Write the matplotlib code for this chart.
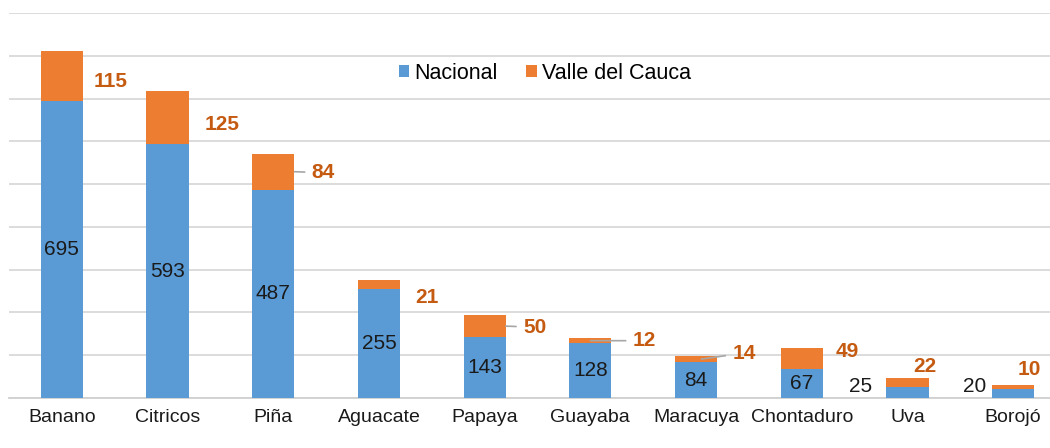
import matplotlib.pyplot as plt

plt.rcParams['font.family'] = ['Liberation Sans', 'DejaVu Sans']

# Datos
categorias = ['Banano', 'Citricos', 'Piña', 'Aguacate', 'Papaya', 'Guayaba',
              'Maracuya', 'Chontaduro', 'Uva', 'Borojó']
nacional = [695, 593, 487, 255, 143, 128, 84, 67, 25, 20]
valle = [115, 125, 84, 21, 50, 12, 14, 49, 22, 10]

# Desplazamiento de etiquetas (pixeles) respecto al centro de la barra
off_valle = [(49, -5), (55, -7), (50, -1), (48, -13), (50, -1), (54, 0),
             (48, 6), (45, 7), (17, 16), (16, 18)]
# inicio de la linea guia (fraccion del ancho de barra desde el centro)
guia = [None, None, 0.2, None, 0.2, 0.0, 0.05, None, None, None]
fuera_nac = [False] * 8 + [True, True]
off_nac = [(-47, 6), (-39, 7)]

azul = '#5B9BD5'
naranja = '#ED7D31'
naranja_txt = '#C55A11'

fig = plt.figure(figsize=(10.5, 4.48), dpi=100)
ax = fig.add_axes([9 / 1050, 50 / 448, 1057 / 1050, 385 / 448])

x = list(range(len(categorias)))
ax.bar(x, nacional, width=0.4, color=azul, label='Nacional', zorder=3)
ax.bar(x, valle, width=0.4, bottom=nacional, color=naranja,
       label='Valle del Cauca', zorder=3)

ax.set_xlim(-0.5, len(categorias) - 0.5)
ax.set_ylim(0, 900)
ax.set_yticks(range(0, 901, 100))
ax.set_yticklabels([])
ax.tick_params(axis='y', length=0)
ax.grid(axis='y', color='#D9D9D9', linewidth=1.3, zorder=0)
for s in ['top', 'right', 'left']:
    ax.spines[s].set_visible(False)
ax.spines['bottom'].set_color('#D0D0D0')
ax.spines['bottom'].set_linewidth(1.3)
ax.set_xticks(x)
ax.set_xticklabels(categorias, fontsize=14, color='#1A1A1A')
ax.tick_params(axis='x', length=0, pad=8)

# Etiquetas de Nacional
k = 0
for i in x:
    if fuera_nac[i]:
        ax.annotate(str(nacional[i]), xy=(i, nacional[i] / 2),
                    xytext=off_nac[k], textcoords='offset pixels',
                    ha='center', va='center', fontsize=15, color='#1A1A1A',
                    zorder=5)
        k += 1
    else:
        ax.text(i, nacional[i] / 2, str(nacional[i]), ha='center',
                va='center', fontsize=15, color='#1A1A1A', zorder=5)

# Etiquetas de Valle del Cauca
px = 105.7  # pixeles por categoria
for i in x:
    yc = nacional[i] + valle[i] / 2
    dx, dy = off_valle[i]
    if guia[i] is not None:
        ax.annotate(str(valle[i]), xy=(i + guia[i], yc),
                    xytext=(dx - guia[i] * px, dy), textcoords='offset pixels',
                    ha='center', va='center', fontsize=15, fontweight='bold',
                    color=naranja_txt, zorder=5,
                    arrowprops=dict(arrowstyle='-', color='#A6A6A6', lw=1.2,
                                    shrinkA=3, shrinkB=0))
    else:
        ax.annotate(str(valle[i]), xy=(i, yc), xytext=(dx, dy),
                    textcoords='offset pixels', ha='center', va='center',
                    fontsize=15, fontweight='bold', color=naranja_txt,
                    zorder=5)

ax.legend(loc='center', bbox_to_anchor=(0.507, 0.844), ncol=2, frameon=False,
          fontsize=15.5, handlelength=0.5, handleheight=0.5, handletextpad=0.25,
          columnspacing=1.3)

plt.savefig('out.png', dpi=100)
